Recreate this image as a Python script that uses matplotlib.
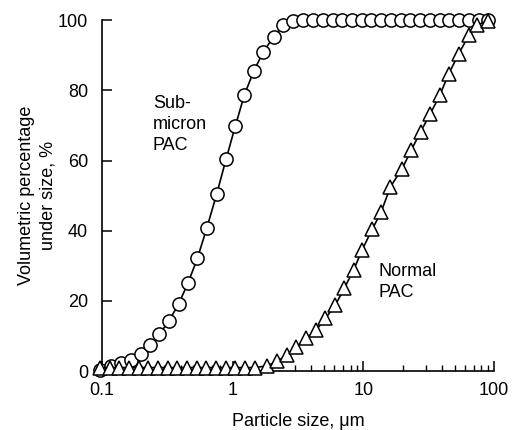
import matplotlib.pyplot as plt
import numpy as np

plt.rcParams['font.family'] = ['Liberation Sans', 'DejaVu Sans']

# Sub-micron PAC (circles)
sub_x = [0.097, 0.117, 0.139, 0.166, 0.198, 0.233, 0.275, 0.326, 0.386, 0.456,
         0.537, 0.634, 0.757, 0.891, 1.05, 1.23, 1.45, 1.72, 2.06, 2.45,
         2.92, 3.48, 4.13, 4.90, 5.82, 6.91, 8.20, 9.73, 11.5, 13.7,
         16.3, 19.3, 22.9, 27.2, 32.3, 38.3, 45.5, 54.0, 64.1, 76.1, 90.3]
sub_y = [0.3, 1.4, 2.2, 3.1, 5.0, 7.4, 10.5, 14.3, 19.1, 25.1,
         32.1, 40.7, 50.6, 60.4, 69.9, 78.7, 85.5, 91.0, 95.3, 98.6,
         99.8, 100, 100, 100, 100, 100, 100, 100, 100, 100,
         100, 100, 100, 100, 100, 100, 100, 100, 100, 100, 100]

# Normal PAC (triangles)
norm_x = [0.097, 0.115, 0.136, 0.161, 0.191, 0.227, 0.269, 0.319, 0.378, 0.448,
          0.531, 0.630, 0.747, 0.886, 1.05, 1.25, 1.48,
          1.83, 2.20, 2.60, 3.08, 3.66, 4.36, 5.12, 6.10, 7.15, 8.43,
          9.77, 11.7, 13.7, 16.1, 19.8, 23.2, 27.4, 32.6, 38.4, 45.1,
          53.8, 64.1, 74.3, 89.6]
norm_y = [1.0, 1.0, 1.0, 1.0, 1.0, 1.0, 1.0, 1.0, 1.0, 1.0,
          1.0, 1.0, 1.0, 1.0, 1.0, 1.0, 1.0,
          1.5, 2.8, 4.6, 6.9, 9.4, 11.7, 15.0, 18.8, 23.6, 28.8,
          34.5, 40.4, 45.4, 52.5, 57.7, 62.9, 68.2, 73.4, 78.6, 84.8,
          90.5, 95.7, 98.6, 99.8]

x_ticks = [0.1, 1, 10, 100]
x_ticklabels = ["0.1", "1", "10", "100"]
y_ticks = [0, 20, 40, 60, 80, 100]

fig = plt.figure(figsize=(5.12, 4.3), dpi=100)
ax = fig.add_axes([0.199, 0.137, 0.766, 0.816])

ax.plot(sub_x, sub_y, color='black', lw=1.2, marker='o', ms=9.5,
        mfc='white', mec='black', mew=1.1, clip_on=False, zorder=3)
ax.plot(norm_x, norm_y, color='black', lw=1.2, marker='^', ms=9.5,
        mfc='white', mec='black', mew=1.1, clip_on=False, zorder=4)

ax.set_xscale('log')
ax.set_xlim(0.1, 100)
ax.set_ylim(0, 100)
ax.set_xticks(x_ticks)
ax.set_xticklabels(x_ticklabels)
ax.set_yticks(y_ticks)

for s in ['top', 'right']:
    ax.spines[s].set_visible(False)
for s in ['left', 'bottom']:
    ax.spines[s].set_linewidth(1.2)

ax.tick_params(axis='both', which='major', direction='in', length=7,
               width=1.1, labelsize=13)
ax.tick_params(axis='x', which='major', pad=8)
ax.tick_params(axis='y', which='major', pad=10)
ax.tick_params(axis='x', which='minor', direction='in', length=4, width=1.0)

ax.set_xlabel("Particle size, \u03bcm", fontsize=13, labelpad=10)
ax.set_ylabel("Volumetric percentage\nunder size, %", fontsize=13, labelpad=1,
              linespacing=1.3)

ax.text(0.246, 78.6, "Sub-\nmicron\nPAC", fontsize=13, va='top', ha='left',
        linespacing=1.3)
ax.text(13.0, 30.8, "Normal\nPAC", fontsize=13, va='top', ha='left',
        linespacing=1.3)

fig.savefig("out.png", dpi=100)
